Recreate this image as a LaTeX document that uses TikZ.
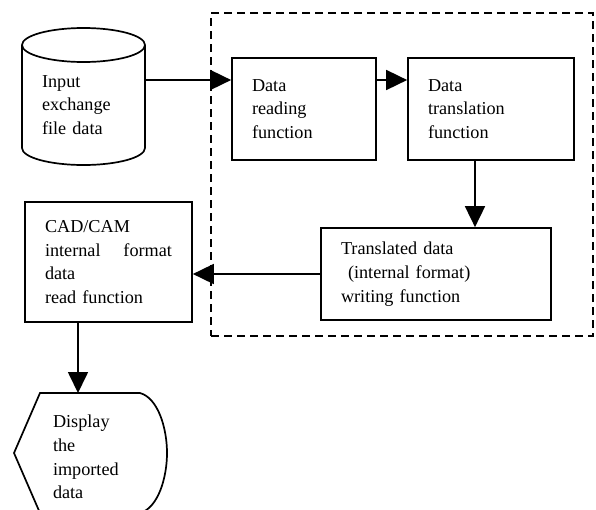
\documentclass[tikz,border=0pt]{standalone}
\usepackage{fontspec}
\setmainfont{Liberation Serif}
\usetikzlibrary{arrows.meta}
\tikzset{
  every node/.style={font=\fontsize{18.2}{23.7}\selectfont},
  fbox/.style={draw, line width=1.7pt, align=left, inner xsep=20pt, inner ysep=0pt},
  txt/.style={align=left, inner sep=0pt, text width=#1},
  arr/.style={line width=1.7pt, -{Triangle[length=21pt,width=20pt]}},
  grpline/.style={line width=1.8pt, dash pattern=on 8pt off 5pt},
  outline/.style={line width=1.7pt}
}
\begin{document}
\begin{tikzpicture}[x=1pt,y=-1pt]
\useasboundingbox (0,0) rectangle (596,509);

% dashed group around the translation stage
\node[grpline, draw, minimum width=382pt, minimum height=323pt, inner sep=0pt] (grp) at (402,174.5) {};

% input file cylinder
\draw[outline] (22,45) -- (22,148) arc[start angle=180, end angle=0, x radius=61.5, y radius=17] -- (145,45);
\draw[outline] (83.5,45) ellipse [x radius=61.5, y radius=17];
\node[txt=95pt] (src) at (89.5,105) {Input\\exchange\\file data};
\coordinate (srcR) at (145,80);

% processing boxes
\node[fbox, text width=104pt, minimum height=102pt] (rd) at (304,109) {Data\\reading\\function};
\node[fbox, text width=126pt, minimum height=102pt] (tr) at (491,109) {Data\\translation\\function};
\node[fbox, text width=190pt, minimum height=92pt] (tw) at (436,274)
  {Translated data\\\hspace*{7pt}(internal format)\\writing function};
\node[fbox, text width=127pt, minimum height=120pt] (cad) at (108.5,262)
  {CAD/CAM\\\makebox[127pt][s]{internal\hfill format}\\data\\read function};

% display terminal
\draw[outline] (40,393) -- (140,393) .. controls (158,398) and (167,428) .. (167,453)
  .. controls (167,478) and (158,508) .. (140,513) -- (40,513) -- (14,453) -- cycle;
\node[txt=100pt] (disp) at (103,457) {Display\\the\\imported\\data};
\coordinate (dispTop) at (78,393);

% connectors
\coordinate (rowA) at (0,80);
\coordinate (colB) at (475,0);
\coordinate (colC) at (78,0);
\draw[arr] (srcR) -- (rd.west |- rowA);
\draw[arr] (rd.east |- rowA) -- (tr.west |- rowA);
\draw[arr] (tr.south -| colB) -- (tw.north -| colB);
\draw[arr] (tw.west) -- (cad.east |- tw.west);
\draw[arr] (cad.south -| colC) -- (dispTop);
\end{tikzpicture}
\end{document}
